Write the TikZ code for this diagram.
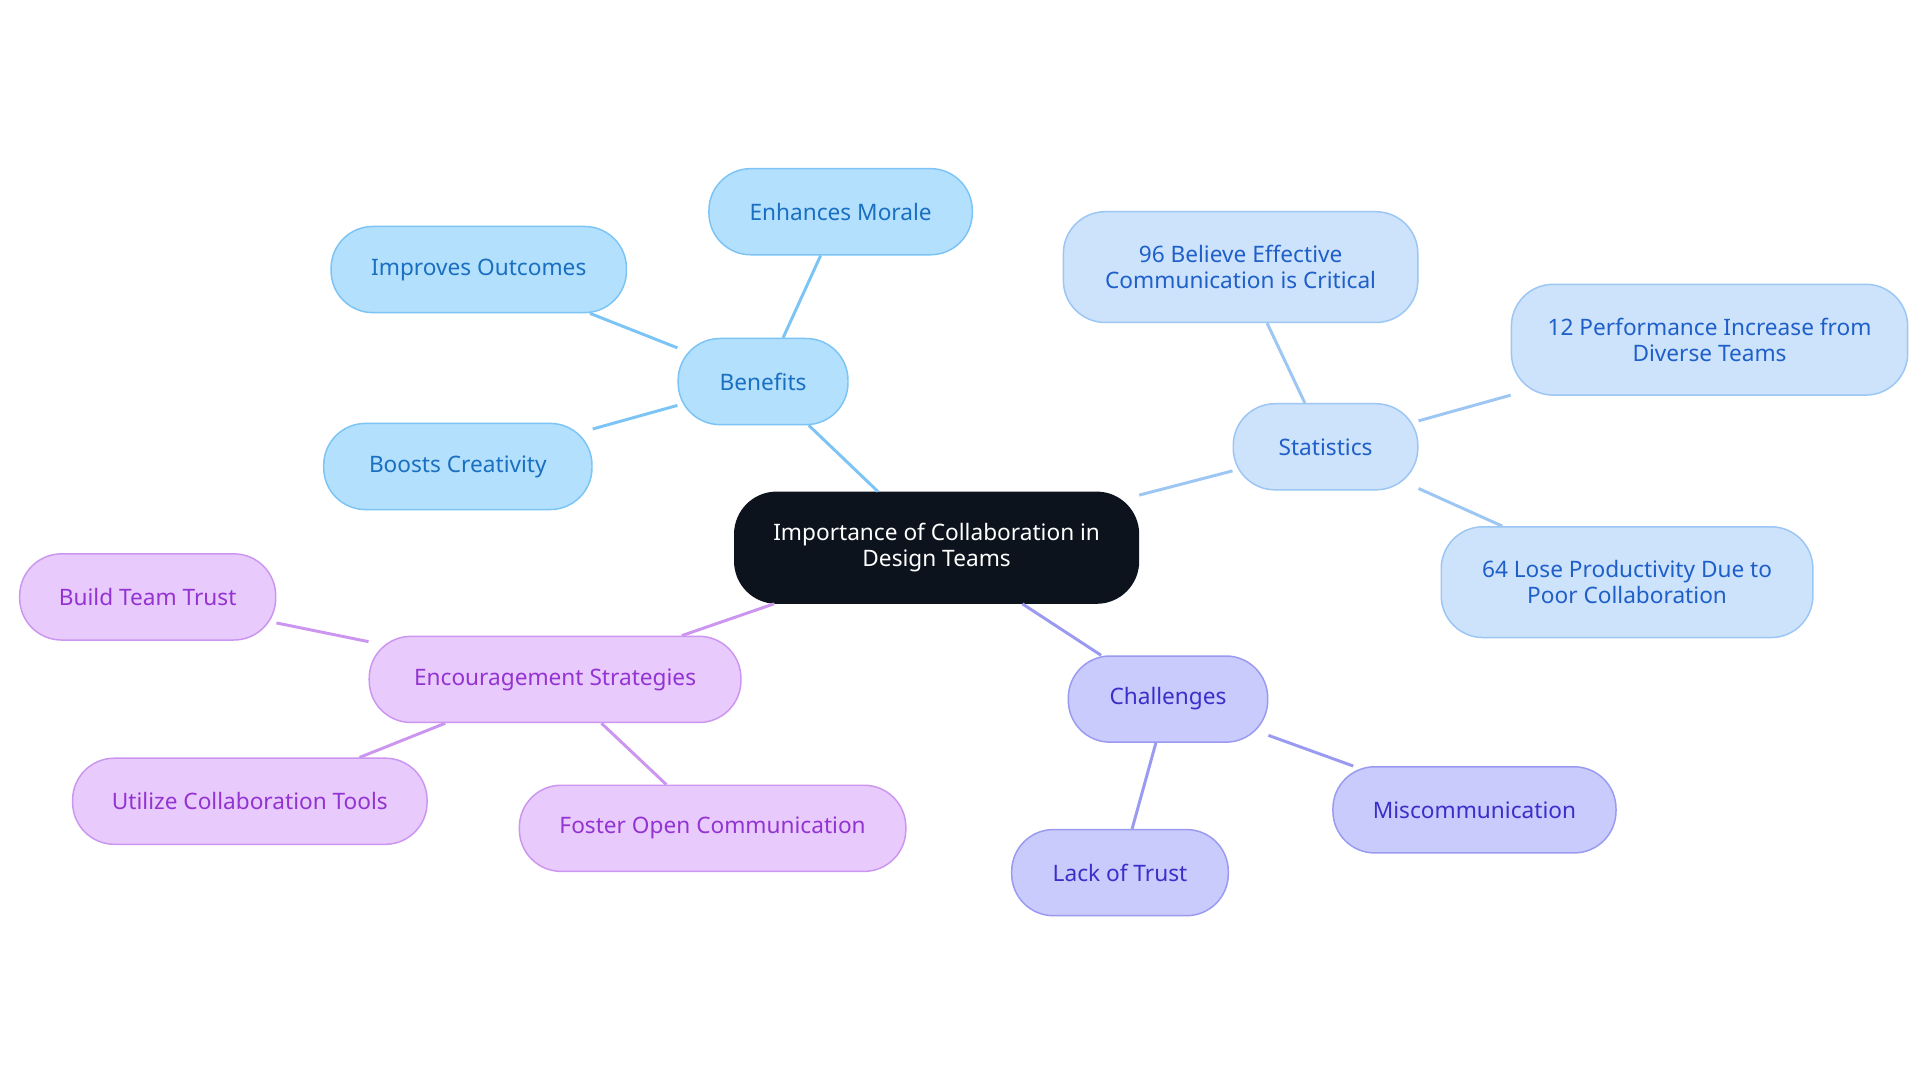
\documentclass[tikz,border=0pt]{standalone}
\usepackage{fontspec}
\setmainfont{Noto Sans}
\definecolor{rootfill}{HTML}{0D131C}
\definecolor{benfill}{HTML}{B3E0FD}\definecolor{benline}{HTML}{7CC4F5}\definecolor{bentext}{HTML}{1A6FC0}
\definecolor{statfill}{HTML}{CCE3FB}\definecolor{statline}{HTML}{9CC6F3}\definecolor{stattext}{HTML}{1F5FC8}
\definecolor{chalfill}{HTML}{C8CBFC}\definecolor{challine}{HTML}{9A9BF0}\definecolor{chaltext}{HTML}{3A2FC9}
\definecolor{encfill}{HTML}{E8CBFC}\definecolor{encline}{HTML}{CC96F0}\definecolor{enctext}{HTML}{9333D1}
\tikzset{%
    box/.style={draw, line width=0.6pt, rounded corners=17pt, align=center, font=\fontsize{9.2}{10.5}\selectfont, minimum height=35pt, inner sep=0pt},
    ben/.style={box, fill=benfill, draw=benline, text=bentext},
    stat/.style={box, fill=statfill, draw=statline, text=stattext},
    chal/.style={box, fill=chalfill, draw=challine, text=chaltext},
    enc/.style={box, fill=encfill, draw=encline, text=enctext},
    link/.style={line width=1.2pt}
}
\begin{document}
\begin{tikzpicture}[x=0.5pt,y=-0.5pt]
        \useasboundingbox[fill=white] (0,0) rectangle (1560,880);
        \node[box, fill=rootfill, draw=rootfill, text=white, minimum width=164pt, minimum height=45pt] (root) at (761,445) {Importance of Collaboration in\\Design Teams};
        % benefits
        \node[ben, minimum width=69pt] (ben) at (620,310) {Benefits};
        \node[ben, minimum width=107pt] (morale) at (683,172) {Enhances Morale};
        \node[ben, minimum width=120pt] (outc) at (389,219) {Improves Outcomes};
        \node[ben, minimum width=109pt] (creat) at (372,379) {Boosts Creativity};
        % statistics
        \node[stat, minimum width=75pt] (stat) at (1077,363) {Statistics};
        \node[stat, minimum width=144pt, minimum height=45pt] (s96) at (1008,217) {96 Believe Effective\\Communication is Critical};
        \node[stat, minimum width=161pt, minimum height=45pt] (s12) at (1389,276) {12 Performance Increase from\\Diverse Teams};
        \node[stat, minimum width=151pt, minimum height=45pt] (s64) at (1322,473) {64 Lose Productivity Due to\\Poor Collaboration};
        % challenges
        \node[chal, minimum width=81pt] (chal) at (949,568) {Challenges};
        \node[chal, minimum width=115pt] (misc) at (1198,658) {Miscommunication};
        \node[chal, minimum width=88pt] (lack) at (910,709) {Lack of Trust};
        % encouragement
        \node[enc, minimum width=151pt] (enc) at (451,552) {Encouragement Strategies};
        \node[enc, minimum width=104pt] (trust) at (120,485) {Build Team Trust};
        \node[enc, minimum width=144pt] (tools) at (203,651) {Utilize Collaboration Tools};
        \node[enc, minimum width=157pt] (open) at (579,673) {Foster Open Communication};
        \begin{scope}[on background layer/.style={}]
        \end{scope}
        \path[link, every edge/.style={draw, link}]
            (root) edge[draw=benline] (ben)
            (ben) edge[draw=benline] (morale)
            (ben) edge[draw=benline] (outc)
            (ben) edge[draw=benline] (creat)
            (root) edge[draw=statline] (stat)
            (stat) edge[draw=statline] (s96)
            (stat) edge[draw=statline] (s12)
            (stat) edge[draw=statline] (s64)
            (root) edge[draw=challine] (chal)
            (chal) edge[draw=challine] (misc)
            (chal) edge[draw=challine] (lack)
            (root) edge[draw=encline] (enc)
            (enc) edge[draw=encline] (trust)
            (enc) edge[draw=encline] (tools)
            (enc) edge[draw=encline] (open);
    \end{tikzpicture}
\end{document}
